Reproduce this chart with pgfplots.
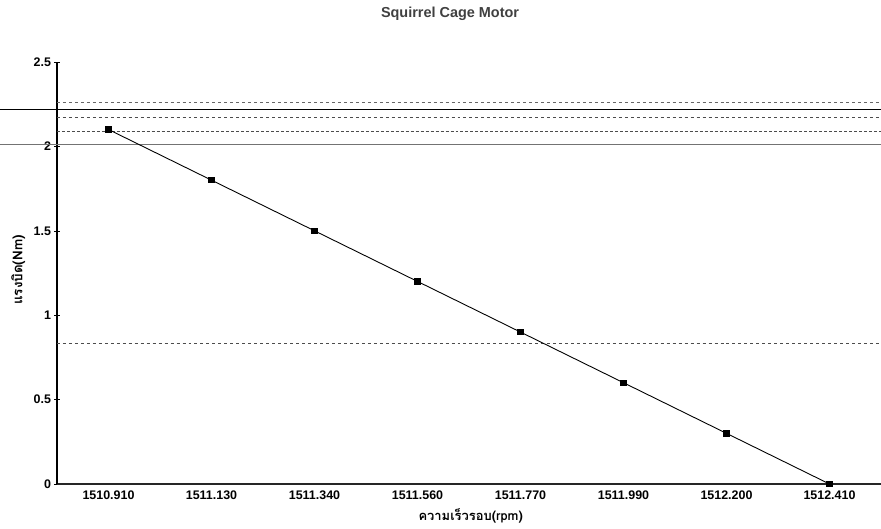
\documentclass[border=0pt]{standalone}
\usepackage{pgfplots}
\pgfplotsset{compat=1.18}
\usepackage{fontspec}
\setmainfont{Liberation Sans}
\newfontfamily\thaifont[Script=Thai]{Loma}
\begin{document}
\begin{tikzpicture}
\useasboundingbox (-57bp,-45bp) rectangle (824bp,484bp);
\begin{axis}[
  at={(0,0)}, anchor=south west,
  scale only axis, width=824bp, height=422bp,
  xmin=-0.5, xmax=7.5, ymin=0, ymax=2.5,
  axis x line=bottom, axis y line=left,
  axis line style={-, black},
  x axis line style={line width=1.1pt, black!85},
  y axis line style={line width=1.6pt},
  clip=false,
  xtick={0,...,7},
  xticklabels={1510.910,1511.130,1511.340,1511.560,1511.770,1511.990,1512.200,1512.410},
  xtick style={draw=none},
  extra x ticks={0.5,1.5,2.5,3.5,4.5,5.5,6.5},
  extra x tick labels={},
  extra x tick style={tick style={draw=black, line width=0.8pt}, major tick length=8bp, tick align=center},
  ytick={0,0.5,1,1.5,2,2.5},
  yticklabels={0,0.5,1,1.5,2,2.5},
  ytick style={black, line width=0.6pt},
  major tick length=5bp,
  tick align=center,
  ticklabel style={font=\fontsize{12.5}{14}\selectfont\bfseries},
  xticklabel style={yshift=-1bp},
  title={\fontsize{14.5}{16}\selectfont\bfseries Squirrel Cage Motor},
  title style={at={(0.477,1)}, anchor=south, yshift=32bp, text=black!75},
  xlabel={\thaifont\bfseries\fontsize{13}{15}\selectfont ความเร็วรอบ(rpm)},
  xlabel style={at={(0.502,0)}, anchor=north, yshift=-21bp},
  ylabel={\thaifont\bfseries\fontsize{13.5}{15}\selectfont แรงบิด(Nm)},
  ylabel style={at={(-0.047,0.507)}, anchor=center},
]
% scan artefact lines
\draw[black, line width=1pt] (rel axis cs:-0.0692,0.8864) -- (rel axis cs:1,0.8864);
\draw[black!55, line width=1pt] (rel axis cs:-0.0692,0.8056) -- (rel axis cs:1,0.8056);
\draw[black!60, dashed, line width=0.5pt] (rel axis cs:0,0.904) -- (rel axis cs:1,0.904);
\draw[black!70, dashed, line width=0.6pt] (rel axis cs:0,0.868) -- (rel axis cs:1,0.868);
\draw[black!70, densely dashed, line width=0.5pt] (rel axis cs:0,0.836) -- (rel axis cs:1,0.836);
\draw[black!70, dashed, line width=0.5pt] (rel axis cs:0,0.334) -- (rel axis cs:1,0.334);
\addplot[black, line width=0.9pt, mark=square*, mark size=2.6pt, mark options={solid, fill=black}]
  coordinates {(0,2.1) (1,1.8) (2,1.5) (3,1.2) (4,0.9) (5,0.6) (6,0.3) (7,0)};
\end{axis}
\end{tikzpicture}
\end{document}
